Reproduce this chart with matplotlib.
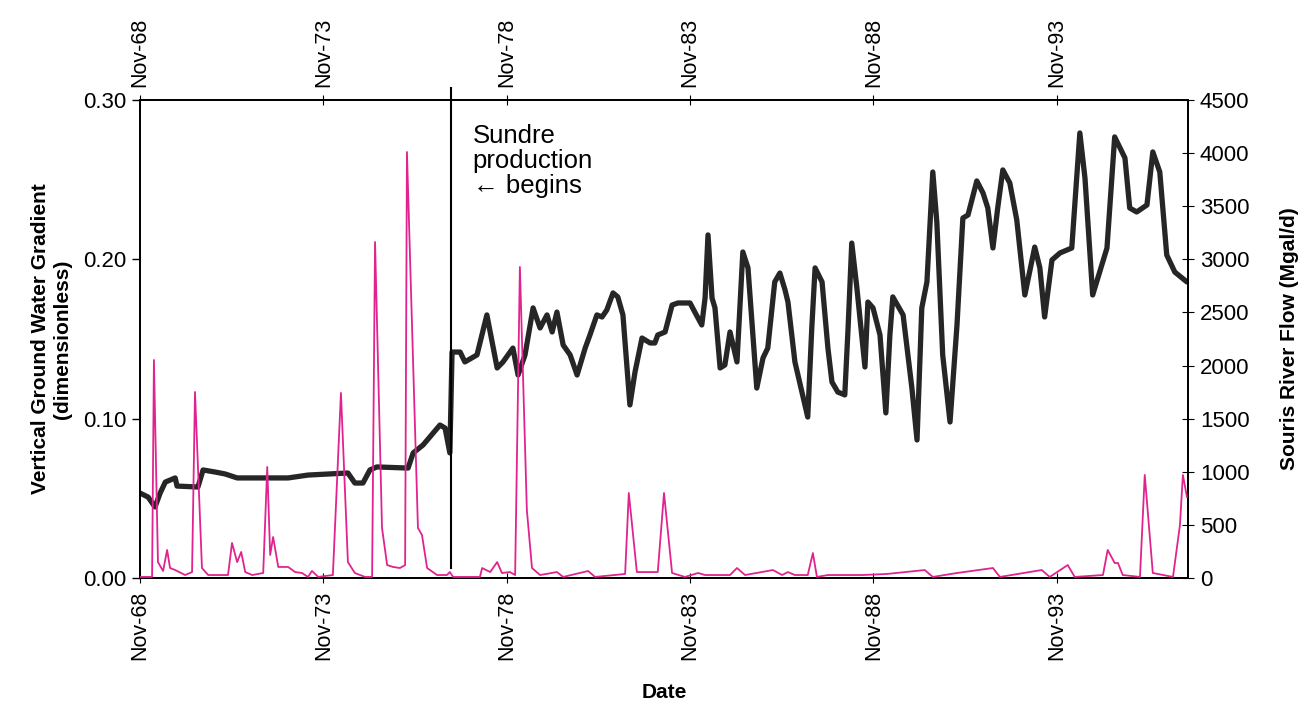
import matplotlib
matplotlib.use("Agg")
import matplotlib.pyplot as plt
import matplotlib.ticker as mticker

plt.rcParams['font.family'] = ['Liberation Sans', 'DejaVu Sans']

# ---- data (decimal years) ----
grad_year = [1968.83, 1969.05, 1969.24, 1969.38, 1969.52, 1969.79, 1969.84, 1970.41, 1970.55,
             1970.88, 1971.15, 1971.48, 1972.87, 1973.41, 1974.50, 1974.69, 1974.91, 1975.10,
             1975.29, 1976.14, 1976.28, 1976.55, 1977.01, 1977.15, 1977.28, 1977.34, 1977.56,
             1977.69, 1978.02, 1978.29, 1978.57, 1978.73, 1979.00, 1979.14, 1979.33, 1979.55,
             1979.74, 1979.93, 1980.07, 1980.20, 1980.37, 1980.56, 1980.75, 1980.97, 1981.10,
             1981.29, 1981.43, 1981.56, 1981.73, 1981.86, 1982.00, 1982.19, 1982.33, 1982.52,
             1982.74, 1982.87, 1982.95, 1983.15, 1983.34, 1983.50, 1983.83, 1983.96, 1984.15,
             1984.24, 1984.32, 1984.43, 1984.51, 1984.65, 1984.78, 1984.92, 1985.11, 1985.27,
             1985.41, 1985.65, 1985.82, 1985.95, 1986.14, 1986.28, 1986.42, 1986.50, 1986.69,
             1987.04, 1987.15, 1987.24, 1987.43, 1987.59, 1987.70, 1987.86, 1988.05, 1988.14,
             1988.24, 1988.38, 1988.60, 1988.68, 1988.82, 1989.01, 1989.17, 1989.28, 1989.36,
             1989.64, 1989.88, 1990.02, 1990.15, 1990.29, 1990.45, 1990.56, 1990.72, 1990.92,
             1991.11, 1991.27, 1991.41, 1991.65, 1991.82, 1991.95, 1992.09, 1992.22, 1992.36,
             1992.55, 1992.74, 1992.96, 1993.23, 1993.37, 1993.50, 1993.70, 1993.92, 1994.24,
             1994.46, 1994.60, 1994.81, 1995.20, 1995.41, 1995.69, 1995.82, 1996.01, 1996.29,
             1996.45, 1996.64, 1996.83, 1997.05, 1997.38]
gradient = [0.0533, 0.0508, 0.0446, 0.0533, 0.0602, 0.0628, 0.0577, 0.0571, 0.0678,
            0.0665, 0.0653, 0.0628, 0.0628, 0.0646, 0.0659, 0.0596, 0.0596, 0.0678,
            0.0697, 0.0690, 0.0785, 0.0835, 0.0960, 0.0941, 0.0785, 0.1418, 0.1418,
            0.1356, 0.1400, 0.1651, 0.1318, 0.1356, 0.1443, 0.1274, 0.1400, 0.1695,
            0.1569, 0.1651, 0.1544, 0.1669, 0.1462, 0.1400, 0.1274, 0.1443, 0.1525,
            0.1651, 0.1638, 0.1682, 0.1789, 0.1764, 0.1651, 0.1086, 0.1293, 0.1506,
            0.1475, 0.1475, 0.1525, 0.1544, 0.1713, 0.1726, 0.1726, 0.1669, 0.1588,
            0.1757, 0.2153, 0.1757, 0.1695, 0.1318, 0.1337, 0.1544, 0.1356, 0.2046,
            0.1946, 0.1192, 0.1381, 0.1443, 0.1858, 0.1914, 0.1808, 0.1732, 0.1356,
            0.1010, 0.1569, 0.1946, 0.1858, 0.1443, 0.1230, 0.1167, 0.1149, 0.1569,
            0.2102, 0.1820, 0.1324, 0.1732, 0.1695, 0.1525, 0.1036, 0.1525, 0.1764,
            0.1651, 0.1192, 0.0866, 0.1695, 0.1858, 0.2548, 0.2234, 0.1400, 0.0979,
            0.1588, 0.2259, 0.2278, 0.2492, 0.2416, 0.2322, 0.2071, 0.2322, 0.2561,
            0.2479, 0.2247, 0.1776, 0.2077, 0.1946, 0.1638, 0.1996, 0.2040, 0.2071,
            0.2793, 0.2510, 0.1776, 0.2071, 0.2768, 0.2636, 0.2322, 0.2297, 0.2341,
            0.2674, 0.2548, 0.2027, 0.1920, 0.1858]

flow_year = [1968.83, 1969.16, 1969.21, 1969.32, 1969.46, 1969.57, 1969.65, 1969.79, 1970.06,
             1970.25, 1970.33, 1970.52, 1970.69, 1971.23, 1971.34, 1971.48, 1971.59, 1971.70,
             1971.89, 1972.19, 1972.30, 1972.38, 1972.46, 1972.60, 1972.87, 1973.06, 1973.25,
             1973.41, 1973.52, 1973.69, 1974.09, 1974.31, 1974.50, 1974.69, 1974.97, 1975.16,
             1975.24, 1975.43, 1975.57, 1975.73, 1975.92, 1976.06, 1976.11, 1976.33, 1976.41,
             1976.52, 1976.66, 1976.93, 1977.20, 1977.28, 1977.37, 1978.10, 1978.16, 1978.38,
             1978.57, 1978.70, 1978.92, 1979.06, 1979.19, 1979.38, 1979.52, 1979.74, 1980.20,
             1980.37, 1981.05, 1981.24, 1982.06, 1982.16, 1982.38, 1982.95, 1983.12, 1983.34,
             1983.69, 1984.05, 1984.24, 1984.92, 1985.11, 1985.33, 1986.09, 1986.34, 1986.50,
             1986.69, 1987.04, 1987.18, 1987.29, 1987.59, 1988.52, 1989.20, 1990.23, 1990.45,
             1991.11, 1992.09, 1992.28, 1993.42, 1993.64, 1994.13, 1994.32, 1995.09, 1995.22,
             1995.41, 1995.50, 1995.63, 1996.10, 1996.23, 1996.45, 1997.00, 1997.19, 1997.27,
             1997.38]
flow = [10, 10, 2052, 150, 66, 264, 94, 75, 28,
        56, 1751, 94, 28, 28, 330, 150, 245, 56,
        28, 47, 1045, 217, 386, 104, 104, 56, 47,
        10, 66, 10, 28, 1742, 150, 47, 10, 10,
        3163, 471, 122, 104, 94, 122, 4010, 1412, 471,
        405, 94, 28, 28, 56, 10, 10, 94, 56,
        150, 47, 56, 28, 2928, 640, 94, 28, 56,
        10, 66, 10, 38, 800, 56, 56, 800, 47,
        10, 47, 28, 28, 94, 28, 75, 28, 56,
        28, 28, 235, 10, 28, 28, 38, 75, 10,
        47, 94, 10, 75, 10, 122, 10, 28, 264,
        141, 141, 28, 10, 970, 47, 10, 499, 970,
        763]

tick_years = [1968.83, 1973.83, 1978.83, 1983.83, 1988.83, 1993.83]
tick_labels = ['Nov-68', 'Nov-73', 'Nov-78', 'Nov-83', 'Nov-88', 'Nov-93']
production_start = 1977.3

# ---- figure ----
fig = plt.figure(figsize=(13.12, 7.06), dpi=100)
ax = fig.add_axes([0.1067, 0.1813, 0.7988, 0.6771])
ax2 = ax.twinx()

ax.plot(grad_year, gradient, color='#262626', lw=3.8, solid_joinstyle='round',
        solid_capstyle='round', zorder=3)
ax2.plot(flow_year, flow, color='#e0238e', lw=1.3, zorder=4)

ax.set_xlim(1968.83, 1997.41)
ax.set_ylim(0, 0.30)
ax2.set_ylim(0, 4500)

ax.set_yticks([0.0, 0.1, 0.2, 0.3])
ax.yaxis.set_major_formatter(mticker.FormatStrFormatter('%.2f'))
ax2.set_yticks(range(0, 4501, 500))

ax.set_xticks(tick_years)
ax.set_xticklabels(tick_labels, rotation=90)
ax.tick_params(axis='x', top=True, labeltop=True, direction='inout', length=7, width=0.8,
               labelsize=15.5, pad=6)
ax.tick_params(axis='y', direction='out', length=6, width=1, labelsize=16, pad=4)
ax2.tick_params(axis='y', direction='inout', length=9, width=0.8, labelsize=16, pad=4)

for a in (ax, ax2):
    for s in a.spines.values():
        s.set_linewidth(1.3)
        s.set_color('black')

ax.set_ylabel('Vertical Ground Water Gradient\n(dimensionless)', fontsize=15,
              fontweight='bold', labelpad=8, linespacing=1.15)
ax2.set_ylabel('Souris River Flow (Mgal/d)', fontsize=15, fontweight='bold', labelpad=22)
ax.set_xlabel('Date', fontsize=15, fontweight='bold', labelpad=16)

ax.axvline(production_start, ymin=0.02, ymax=1.025, color='black', lw=1.5,
           clip_on=False, zorder=5)
ax.text(1977.9, 0.285, 'Sundre\nproduction\n\u2190 begins', fontsize=18.5, va='top', ha='left',
        linespacing=1.05, family=['Liberation Sans', 'DejaVu Sans'])

fig.savefig('out.png', dpi=100)
